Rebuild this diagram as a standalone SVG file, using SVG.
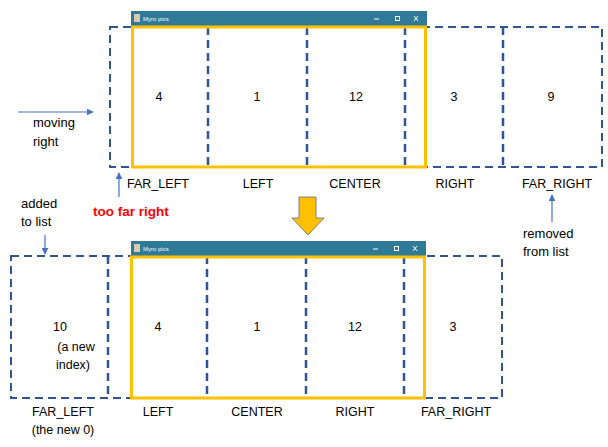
<svg xmlns="http://www.w3.org/2000/svg" width="608" height="447" viewBox="0 0 608 447">
<defs>
<marker id="ah" viewBox="0 0 10 10" refX="9" refY="5" markerWidth="7" markerHeight="7" markerUnits="userSpaceOnUse" orient="auto"><path d="M0,0 L10,5 L0,10 z" fill="#4472c4"/></marker>
<style>
.t{font-family:"Liberation Sans",Arial,sans-serif;font-size:12.5px;fill:#000;text-anchor:middle}
.l{font-family:"Liberation Sans",Arial,sans-serif;font-size:13px;fill:#000}
.d{fill:none;stroke:#2f5597;stroke-width:2;stroke-dasharray:8,5}
.dv{fill:none;stroke:#2f5597;stroke-width:2.5;stroke-dasharray:8,5}
.y{fill:none;stroke:#ffc000;stroke-width:3}
.bar{fill:#2e7a97}
.bt{font-family:"Liberation Sans",Arial,sans-serif;font-size:6px;fill:#fff}
.ic{stroke:#fff;stroke-width:1;fill:none}
.ar{stroke:#4472c4;stroke-width:1.2;fill:none}
</style>
</defs>
<rect width="608" height="447" fill="#fff"/>

<g id="top-row">
<rect class="d" x="110" y="27" width="492" height="140"/>
<line class="dv" x1="208" y1="27" x2="208" y2="167"/>
<line class="dv" x1="307" y1="27" x2="307" y2="167"/>
<line class="dv" x1="405" y1="27" x2="405" y2="167"/>
<line class="dv" x1="503" y1="27" x2="503" y2="167"/>
</g>
<g id="top-window">
<rect class="bar" x="131" y="11" width="296" height="16"/>
<rect x="134" y="14" width="6" height="8" fill="#d9c8b0"/>
<text class="bt" x="143" y="21">Myro pics</text>
<line class="ic" x1="374" y1="19" x2="379" y2="19"/>
<rect class="ic" x="395.5" y="16.5" width="4" height="4"/>
<path class="ic" d="M414,16 L418,21 M418,16 L414,21"/>
<rect class="y" x="132.5" y="27" width="293" height="140"/>
</g>
<g id="top-cells">
<text class="t" x="159" y="101">4</text>
<text class="t" x="257" y="101">1</text>
<text class="t" x="356" y="101">12</text>
<text class="t" x="454" y="101">3</text>
<text class="t" x="551" y="101">9</text>
<text class="t" x="158" y="188">FAR_LEFT</text>
<text class="t" x="258" y="188">LEFT</text>
<text class="t" x="355" y="188">CENTER</text>
<text class="t" x="455" y="188">RIGHT</text>
<text class="t" x="557" y="188">FAR_RIGHT</text>
</g>

<g id="bottom-row">
<rect class="d" x="11" y="256" width="491" height="142"/>
<line class="dv" x1="108" y1="256" x2="108" y2="398"/>
<line class="dv" x1="207" y1="256" x2="207" y2="398"/>
<line class="dv" x1="306" y1="256" x2="306" y2="398"/>
<line class="dv" x1="404" y1="256" x2="404" y2="398"/>
</g>
<g id="bottom-window">
<rect class="bar" x="131" y="241" width="295" height="16"/>
<rect x="134" y="244" width="6" height="8" fill="#d9c8b0"/>
<text class="bt" x="143" y="251">Myro pics</text>
<line class="ic" x1="373" y1="249" x2="378" y2="249"/>
<rect class="ic" x="394.5" y="246.5" width="4" height="4"/>
<path class="ic" d="M413,246 L417,251 M417,246 L413,251"/>
<rect class="y" x="131.5" y="257" width="293" height="141"/>
</g>
<g id="bottom-cells">
<text class="t" x="60" y="331">10</text>
<text class="t" x="76" y="351">(a new</text>
<text class="t" x="73" y="369">index)</text>
<text class="t" x="158" y="331">4</text>
<text class="t" x="257" y="331">1</text>
<text class="t" x="355" y="331">12</text>
<text class="t" x="453" y="331">3</text>
<text class="t" x="63" y="416">FAR_LEFT</text>
<text class="t" x="63" y="434">(the new 0)</text>
<text class="t" x="158" y="416">LEFT</text>
<text class="t" x="257" y="416">CENTER</text>
<text class="t" x="355" y="416">RIGHT</text>
<text class="t" x="456" y="416">FAR_RIGHT</text>
</g>

<g id="notes">
<text class="l" x="33" y="127">moving</text>
<text class="l" x="33" y="146">right</text>
<text x="93" y="216" style="font-family:'Liberation Sans',Arial,sans-serif;font-size:13.5px;font-weight:bold;fill:#ff0000">too far right</text>
<text class="l" x="21" y="208">added</text>
<text class="l" x="21" y="226">to list</text>
<text class="l" x="523" y="238">removed</text>
<text class="l" x="523" y="256">from list</text>
</g>

<g id="connectors">
<line class="ar" x1="18" y1="112" x2="93" y2="112" marker-end="url(#ah)"/>
<line class="ar" x1="119" y1="197" x2="119" y2="173" marker-end="url(#ah)"/>
<line class="ar" x1="45" y1="235" x2="45" y2="254" marker-end="url(#ah)"/>
<line class="ar" x1="552" y1="222" x2="552" y2="195" marker-end="url(#ah)"/>
</g>
<g id="down-arrow">
<path d="M299,197 L316,197 L316,218 L324,218 L308,235 L292,218 L299,218 Z" fill="#ffc000" stroke="#5a6a8a" stroke-width="0.8"/>
</g>
</svg>
